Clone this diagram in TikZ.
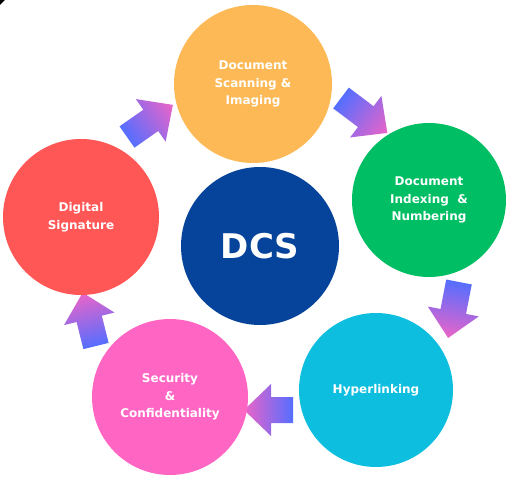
\documentclass[tikz,border=0pt]{standalone}
\usepackage{fontspec}
\setmainfont{DejaVu Sans}
\definecolor{corange}{HTML}{FDB955}
\definecolor{cgreen}{HTML}{00BE63}
\definecolor{cnavy}{HTML}{05449A}
\definecolor{cred}{HTML}{FF5656}
\definecolor{ccyan}{HTML}{0EBEDF}
\definecolor{cpink}{HTML}{FF66C4}
\definecolor{arrowblue}{RGB}{85,110,255}
\definecolor{arrowpink}{RGB}{235,100,200}
\newcommand\myblockarrow[3]{%
  \begin{scope}[transform canvas={shift={(#1)},rotate=#2}]
    \shade[left color=arrowblue, right color=arrowpink]
      (0,-13) -- ({#3-27},-13) -- ({#3-27},-26) -- (#3,0) -- ({#3-27},26) -- ({#3-27},13) -- (0,13) -- cycle;
  \end{scope}}
\begin{document}
\begin{tikzpicture}[x=1pt,y=1pt,
  stage/.style={circle, inner sep=0pt, text=white, align=center,
    font=\fontsize{12}{17.5}\selectfont\bfseries},
  hub/.style={circle, inner sep=0pt, text=white,
    font=\fontsize{34}{40}\selectfont\bfseries}]
\useasboundingbox (0,0) rectangle (514,485);
\fill[white] (0,0) rectangle (514,485);
\fill[black] (0,485) -- (5,485) -- (0,480) -- cycle;
% arrow anchors
\coordinate (a1) at (127,348);
\coordinate (a2) at (341,387);
\coordinate (a3) at (459,203);
\coordinate (a4) at (293,75);
\coordinate (a5) at (96,139);
\myblockarrow{a1}{35}{56}
\myblockarrow{a2}{-37}{58}
\myblockarrow{a3}{-101}{57}
\myblockarrow{a4}{180}{49}
\myblockarrow{a5}{104}{55}
% circles
\node[stage, fill=corange, minimum size=158pt] (scan) at (253,401) {Document\\Scanning \&\\Imaging};
\node[stage, fill=cgreen, minimum size=154pt] (index) at (429,285) {Document\\Indexing~~\&\\Numbering};
\node[hub, fill=cnavy, minimum size=158pt] (dcs) at (260,239) {DCS};
\node[stage, fill=cred, minimum size=156pt] (sign) at (81,268) {Digital\\Signature};
\node[stage, fill=ccyan, minimum size=154pt] (hyper) at (376,95) {Hyperlinking};
\node[stage, fill=cpink, minimum size=156pt] (sec) at (170,88) {Security\\\&\\Confidentiality};
\end{tikzpicture}
\end{document}
